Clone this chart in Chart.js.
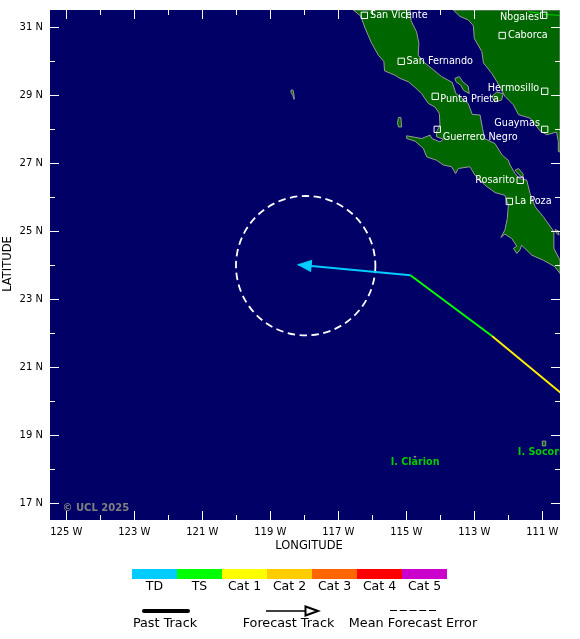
<!DOCTYPE html>
<html>
<head>
<meta charset="utf-8">
<style>
  html, body { margin: 0; padding: 0; background: #fff; }
  canvas { display: block; }
</style>
<script src="https://cdn.jsdelivr.net/npm/chart.js@4"></script>
</head>
<body>
<canvas id="track-chart" width="580" height="639"></canvas>
<script>
const lonTicks = [-125, -124, -123, -122, -121, -120, -119, -118, -117, -116, -115, -114, -113, -112, -111];
const latTicks = [17, 18, 19, 20, 21, 22, 23, 24, 25, 26, 27, 28, 29, 30, 31];

const trackLon = [-118.18, -114.88, -112.48, -110.0];
const trackLat = [24.02, 23.71, 21.92, 19.87];
const trackColors = ['#00ccff', '#00ff00', '#ffee00'];

const errorLon = -117.96;
const errorLat = 23.99;
const errorRadiusDeg = 2.05;

const cityNames = ['San Vicente', 'Nogales', 'Caborca', 'San Fernando', 'Hermosillo', 'Punta Prieta', 'Guaymas', 'Guerrero Negro', 'Rosarito', 'La Poza'];
const cityLon = [-116.235, -110.96, -112.18, -115.15, -110.93, -114.15, -110.93, -114.09, -111.65, -111.97];
const cityLat = [31.353, 31.353, 30.76, 30.0, 29.12, 28.97, 28.0, 28.0, 26.5, 25.88];

const islandNames = ['I. Clarion', 'I. Socorro'];
const islandLon = [-115.46, -111.72];
const islandLat = [18.21, 18.5];

const categoryNames = ['TD', 'TS', 'Cat 1', 'Cat 2', 'Cat 3', 'Cat 4', 'Cat 5'];
const categoryColors = ['#00ccff', '#00ff00', '#ffff00', '#ffcc00', '#ff6600', '#ff0000', '#cc00cc'];

const peninsula = [
  [-116.56, 31.51], [-116.34, 31.33], [-116.21, 30.97], [-116.02, 30.53], [-115.82, 30.18], [-115.66, 29.99],
  [-115.64, 29.72], [-115.33, 29.59], [-115.19, 29.50], [-114.94, 29.40], [-114.74, 29.23], [-114.55, 29.05],
  [-114.35, 28.76], [-114.16, 28.66], [-114.03, 28.47], [-114.01, 28.12], [-114.11, 27.93], [-114.11, 27.78],
  [-113.91, 27.71], [-114.01, 27.63], [-114.25, 27.73], [-114.30, 27.83], [-114.55, 27.73], [-114.99, 27.81],
  [-114.99, 27.73], [-114.74, 27.65], [-114.50, 27.44], [-114.40, 27.19], [-114.11, 27.09], [-113.91, 26.95],
  [-113.67, 26.90], [-113.55, 26.70], [-113.47, 26.85], [-113.13, 26.90], [-112.98, 26.65], [-112.69, 26.36],
  [-112.39, 26.14], [-112.10, 26.06], [-112.00, 25.77], [-112.03, 25.38], [-112.10, 25.04], [-112.22, 24.82],
  [-112.10, 24.92], [-111.90, 24.79], [-111.75, 24.56], [-111.85, 24.50], [-111.75, 24.35], [-111.66, 24.45],
  [-111.61, 24.59], [-111.31, 24.30], [-110.97, 24.15], [-110.63, 23.96], [-110.48, 23.76], [-110.48, 24.15],
  [-110.66, 24.50], [-110.66, 24.99], [-110.97, 25.43], [-111.21, 25.72], [-111.36, 26.11], [-111.46, 26.51],
  [-111.68, 26.55], [-111.80, 26.70], [-111.95, 26.95], [-112.00, 27.09], [-112.18, 27.24], [-112.39, 27.58],
  [-112.70, 27.73], [-112.76, 28.03], [-112.83, 28.42], [-113.06, 28.44], [-113.18, 28.76], [-113.42, 28.96],
  [-113.54, 29.05], [-113.65, 29.38], [-113.96, 29.55], [-114.35, 29.87], [-114.50, 29.99], [-114.65, 30.18],
  [-114.63, 30.53], [-114.70, 30.87], [-114.86, 31.19], [-114.89, 31.51]
];
const mainland = [
  [-113.62, 31.51], [-113.42, 31.32], [-113.18, 31.22], [-113.03, 31.05], [-113.00, 30.67], [-112.78, 30.29],
  [-112.73, 29.95], [-112.49, 29.65], [-112.34, 29.41], [-112.10, 28.97], [-111.85, 28.72], [-111.70, 28.43],
  [-111.36, 28.33], [-111.07, 27.96], [-110.87, 27.84], [-110.58, 27.92], [-110.53, 27.64], [-110.53, 27.35],
  [-110.48, 27.33], [-110.48, 31.51]
];
const islands = [
  [[-113.57, 29.50], [-113.44, 29.55], [-113.34, 29.40], [-113.18, 29.27], [-113.15, 29.05], [-113.32, 29.15], [-113.40, 29.30], [-113.54, 29.40]],
  [[-112.49, 28.96], [-112.34, 29.10], [-112.15, 29.05], [-112.20, 28.86], [-112.39, 28.81]],
  [[-115.23, 28.35], [-115.16, 28.35], [-115.14, 28.07], [-115.23, 28.07], [-115.26, 28.19]],
  [[-111.80, 26.80], [-111.70, 26.85], [-111.56, 26.68], [-111.58, 26.58], [-111.70, 26.68]],
  [[-110.63, 25.05], [-110.53, 25.02], [-110.51, 24.89], [-110.58, 24.94]],
  [[-118.39, 29.16], [-118.33, 29.15], [-118.30, 28.98], [-118.30, 28.88], [-118.34, 29.00], [-118.39, 29.08]],
  [[-111.00, 18.83], [-110.90, 18.83], [-110.90, 18.69], [-111.00, 18.69]],
  [[-114.77, 18.38], [-114.72, 18.38], [-114.72, 18.36], [-114.77, 18.36]]
];
const borderLine = [[-111.41, 31.46], [-111.17, 31.43], [-110.97, 31.38], [-110.48, 31.35]];

// label placement next to each city square: dx, dy, align
const cityLabelPlacement = [
  [5.7, 0.4, 'left'], [-4.7, 2.4, 'right'], [5.7, 0.4, 'left'], [5.4, 0.4, 'left'], [-5.4, -2.6, 'right'],
  [5, 3.4, 'left'], [-4.7, -6, 'right'], [5.4, 8.4, 'left'], [-5.3, 0.4, 'right'], [5.4, 0.4, 'left']
];

const SANS = "'DejaVu Sans', sans-serif";

function tracePolygon(ctx, chart, points, closed) {
  const xs = chart.scales.x;
  const ys = chart.scales.y;
  ctx.beginPath();
  points.forEach((p, i) => {
    const px = xs.getPixelForValue(p[0]);
    const py = ys.getPixelForValue(p[1]);
    if (i === 0) ctx.moveTo(px, py);
    else ctx.lineTo(px, py);
  });
  if (closed) ctx.closePath();
}

const mapPlugin = {
  id: 'mapLayers',
  beforeDraw(chart) {
    const ctx = chart.ctx;
    const area = chart.chartArea;
    ctx.save();
    ctx.fillStyle = '#fff';
    ctx.fillRect(0, 0, chart.width, chart.height);
    ctx.fillStyle = '#000066';
    ctx.fillRect(area.left, area.top, area.width, area.height);
    ctx.restore();
  },
  beforeDatasetsDraw(chart) {
    const ctx = chart.ctx;
    const area = chart.chartArea;
    ctx.save();
    ctx.beginPath();
    ctx.rect(area.left, area.top, area.width, area.height);
    ctx.clip();

    ctx.fillStyle = '#006600';
    ctx.strokeStyle = '#999999';
    ctx.lineWidth = 1;
    [peninsula, mainland].concat(islands).forEach((shape) => {
      tracePolygon(ctx, chart, shape, true);
      ctx.fill();
      ctx.stroke();
    });

    ctx.strokeStyle = '#00cc00';
    tracePolygon(ctx, chart, borderLine, false);
    ctx.stroke();

    // mean forecast error circle
    const cx = chart.scales.x.getPixelForValue(errorLon);
    const cy = chart.scales.y.getPixelForValue(errorLat);
    const r = chart.scales.x.getPixelForValue(errorLon + errorRadiusDeg) - cx;
    ctx.strokeStyle = '#ffffff';
    ctx.lineWidth = 1.8;
    ctx.setLineDash([7.5, 4.5]);
    ctx.beginPath();
    ctx.arc(cx, cy, r, 0, Math.PI * 2);
    ctx.stroke();
    ctx.restore();
  },
  afterDatasetsDraw(chart) {
    const ctx = chart.ctx;
    const area = chart.chartArea;
    const xs = chart.scales.x;
    const ys = chart.scales.y;
    ctx.save();
    ctx.beginPath();
    ctx.rect(area.left, area.top, area.width, area.height);
    ctx.clip();

    // arrow head at the end of the forecast track
    const tipX = xs.getPixelForValue(trackLon[0]);
    const tipY = ys.getPixelForValue(trackLat[0]);
    const angle = Math.atan2(ys.getPixelForValue(trackLat[1]) - tipY, xs.getPixelForValue(trackLon[1]) - tipX);
    ctx.fillStyle = trackColors[0];
    ctx.strokeStyle = trackColors[0];
    ctx.lineWidth = 1;
    ctx.translate(tipX, tipY);
    ctx.rotate(angle);
    ctx.beginPath();
    ctx.moveTo(0, 0);
    ctx.lineTo(13, -5.5);
    ctx.lineTo(13, 5.5);
    ctx.closePath();
    ctx.fill();
    ctx.stroke();
    ctx.setTransform(1, 0, 0, 1, 0, 0);

    ctx.textBaseline = 'middle';
    ctx.fillStyle = '#ffffff';
    ctx.font = '9.7px ' + SANS;
    cityNames.forEach((name, i) => {
      const place = cityLabelPlacement[i];
      ctx.textAlign = place[2];
      ctx.fillText(name, xs.getPixelForValue(cityLon[i]) + place[0], ys.getPixelForValue(cityLat[i]) + place[1]);
    });

    ctx.textAlign = 'left';
    ctx.fillStyle = '#00cc00';
    ctx.font = 'bold 9.6px ' + SANS;
    islandNames.forEach((name, i) => {
      ctx.fillText(name, xs.getPixelForValue(islandLon[i]), ys.getPixelForValue(islandLat[i]));
    });

    ctx.fillStyle = '#808080';
    ctx.font = 'bold 10px ' + SANS;
    ctx.fillText('\u00a9 UCL 2025', 62.5, 508.5);

    // inward ticks on all four sides
    ctx.strokeStyle = '#ffffff';
    ctx.lineWidth = 1;
    ctx.beginPath();
    lonTicks.forEach((lon) => {
      const x = Math.round(xs.getPixelForValue(lon)) + 0.5;
      const len = lon % 2 ? 9 : 5;
      ctx.moveTo(x, area.top);
      ctx.lineTo(x, area.top + len);
      ctx.moveTo(x, area.bottom);
      ctx.lineTo(x, area.bottom - len);
    });
    latTicks.forEach((lat) => {
      const y = Math.round(ys.getPixelForValue(lat)) + 0.5;
      const len = lat % 2 ? 9 : 5;
      ctx.moveTo(area.left, y);
      ctx.lineTo(area.left + len, y);
      ctx.moveTo(area.right, y);
      ctx.lineTo(area.right - len, y);
    });
    ctx.stroke();
    ctx.restore();
  },
  afterDraw(chart) {
    const ctx = chart.ctx;
    ctx.save();

    // axis titles
    ctx.fillStyle = '#000000';
    ctx.textBaseline = 'middle';
    ctx.textAlign = 'center';
    ctx.font = '11.5px ' + SANS;
    ctx.fillText('LONGITUDE', 309, 546);
    ctx.save();
    ctx.translate(8, 264);
    ctx.rotate(-Math.PI / 2);
    ctx.fillText('LATITUDE', 0, 0);
    ctx.restore();

    // category colour bar
    const barLeft = 132;
    const barStep = 45;
    ctx.font = '12.5px ' + SANS;
    categoryNames.forEach((name, i) => {
      ctx.fillStyle = categoryColors[i];
      ctx.fillRect(barLeft + i * barStep, 569, barStep, 10);
      ctx.fillStyle = '#000000';
      ctx.fillText(name, barLeft + i * barStep + barStep / 2, 587);
    });

    // line key
    ctx.font = '12.8px ' + SANS;
    ctx.fillText('Past Track', 165, 623.5);
    ctx.fillText('Forecast Track', 288.5, 623.5);
    ctx.fillText('Mean Forecast Error', 413, 623.5);

    ctx.strokeStyle = '#000000';
    ctx.lineCap = 'round';
    ctx.lineWidth = 4;
    ctx.beginPath();
    ctx.moveTo(144, 611);
    ctx.lineTo(188, 611);
    ctx.stroke();

    ctx.lineCap = 'butt';
    ctx.lineWidth = 1.5;
    ctx.beginPath();
    ctx.moveTo(266, 611);
    ctx.lineTo(305, 611);
    ctx.stroke();
    ctx.lineWidth = 2;
    ctx.beginPath();
    ctx.moveTo(318, 611);
    ctx.lineTo(305.5, 606.5);
    ctx.lineTo(305.5, 615.5);
    ctx.closePath();
    ctx.fillStyle = '#ffffff';
    ctx.fill();
    ctx.stroke();

    ctx.lineWidth = 1;
    ctx.setLineDash([7, 2.75]);
    ctx.beginPath();
    ctx.moveTo(390, 610.5);
    ctx.lineTo(436, 610.5);
    ctx.stroke();
    ctx.restore();
  }
};

new Chart(document.getElementById('track-chart'), {
  type: 'scatter',
  plugins: [mapPlugin],
  data: {
    datasets: [
      {
        data: trackLon.map((lon, i) => ({ x: lon, y: trackLat[i] })),
        showLine: true,
        borderWidth: 2,
        pointRadius: 0,
        clip: 0,
        segment: {
          borderColor: (c) => trackColors[c.p0DataIndex]
        }
      },
      {
        data: cityLon.map((lon, i) => ({ x: lon, y: cityLat[i] })),
        showLine: false,
        pointStyle: 'rect',
        pointRadius: 4.5,
        pointBorderWidth: 1,
        pointBorderColor: '#ffffff',
        pointBackgroundColor: 'transparent'
      }
    ]
  },
  options: {
    responsive: false,
    animation: false,
    devicePixelRatio: 1,
    layout: { padding: { left: 0, right: 20, top: 10, bottom: 85 } },
    plugins: {
      legend: { display: false },
      tooltip: { enabled: false }
    },
    scales: {
      x: {
        type: 'linear',
        min: -125.48,
        max: -110.48,
        afterFit(scale) {
          scale.height = 34;
          scale.paddingLeft = 0;
          scale.paddingRight = 0;
        },
        afterBuildTicks(scale) { scale.ticks = lonTicks.map((value) => ({ value })); },
        grid: { display: false, drawTicks: false },
        border: { display: false },
        ticks: {
          autoSkip: false,
          maxRotation: 0,
          padding: 6,
          color: '#000000',
          font: { family: SANS, size: 10 },
          callback: (value) => (value % 2 ? Math.abs(value) + ' W' : '')
        }
      },
      y: {
        type: 'linear',
        min: 16.51,
        max: 31.51,
        afterFit(scale) {
          scale.width = 50;
          scale.paddingTop = 0;
          scale.paddingBottom = 0;
        },
        afterBuildTicks(scale) { scale.ticks = latTicks.map((value) => ({ value })); },
        grid: { display: false, drawTicks: false },
        border: { display: false },
        ticks: {
          autoSkip: false,
          padding: 7,
          color: '#000000',
          font: { family: SANS, size: 10 },
          callback: (value) => (value % 2 ? value + ' N' : '')
        }
      }
    }
  }
});
</script>
</body>
</html>
